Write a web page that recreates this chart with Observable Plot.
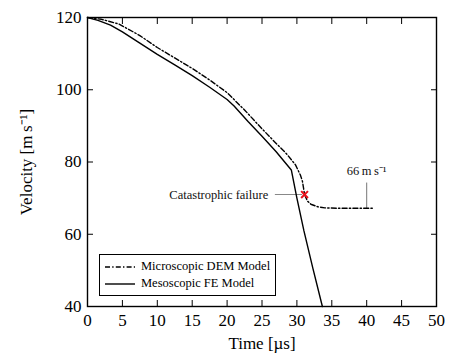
<!DOCTYPE html>
<html>
<head>
<meta charset="utf-8">
<script src="https://cdn.jsdelivr.net/npm/d3@7"></script>
<script src="https://cdn.jsdelivr.net/npm/@observablehq/plot@0.6"></script>
<style>
  html, body { margin: 0; padding: 0; background: #fff; }
  #wrap { position: relative; width: 449px; height: 359px; font-family: "Liberation Serif", "Times New Roman", serif; }
  #wrap svg text { font-family: "Liberation Serif", "Times New Roman", serif; }
  #legend { position: absolute; left: 99px; top: 254px; width: 175px; height: 40px; border: 1.5px solid #000; background: #fff; font-size: 12.5px; }
  #legend .row { position: absolute; left: 5px; display: flex; align-items: center; }
  #legend svg { display: block; margin-right: 5px; }
</style>
</head>
<body>
<div id="wrap"></div>
<script>
// Microscopic DEM model (dash-dot)
const demTime = [0, 2, 4.5, 7.5, 10, 12.5, 15, 17.5, 20, 22.5, 25, 27, 28.5, 29.8, 30.5, 30.8, 31.1, 31.5, 32, 33, 34, 36, 38, 41];
const demVel  = [120, 119.5, 118.2, 115.0, 111.7, 108.8, 105.9, 102.7, 99.2, 94.4, 89.2, 85.2, 82.3, 79.2, 76.4, 74.6, 71.0, 69.2, 68.3, 67.6, 67.3, 67.2, 67.2, 67.2];
// Mesoscopic FE model (solid)
const feTime = [0, 1.5, 3.3, 5, 7.5, 10, 12.5, 15, 17.5, 20, 21, 23, 25, 27, 29.2, 30, 31, 32.3, 33.65];
const feVel  = [120, 119.2, 117.9, 116.0, 112.9, 109.8, 106.9, 103.9, 100.7, 97.3, 95.5, 91.2, 87.1, 82.9, 77.8, 70.0, 61.0, 50.5, 40];

const xTicks = [0, 5, 10, 15, 20, 25, 30, 35, 40, 45, 50];
const yTicks = [40, 60, 80, 100, 120];

// annotations
const failTime = [31.1], failVel = [71.0];
const failLabel = ["Catastrophic failure"];
const failLeaderX = [26.9, 30.7], failLeaderY = [71.0, 71.0];
const plateauLabel = ["66\u2009m\u2009s\u207B\u00B9"];
const plateauX = [40], plateauLabelY = [77.6], plateauRuleY = [67.2, 74.2];

const dem = demTime.map((t, i) => ({t, v: demVel[i]}));
const fe = feTime.map((t, i) => ({t, v: feVel[i]}));

const font = "Liberation Serif, Times New Roman, serif";

const chart = Plot.plot({
  width: 449,
  height: 359,
  marginLeft: 87,
  marginRight: 13,
  marginTop: 17,
  marginBottom: 53,
  style: {fontFamily: font, fontSize: "17px", background: "#fff", color: "#000"},
  x: {domain: [0, 50]},
  y: {domain: [40, 120]},
  marks: [
    Plot.axisX(xTicks, {anchor: "bottom", tickSize: 0, tickPadding: 7, fontSize: 17, fontFamily: font, label: "Time [µs]", labelArrow: "none", labelAnchor: "center", labelOffset: 42}),
    Plot.axisX(xTicks, {anchor: "bottom", tickSize: -6, tickFormat: () => "", label: null}),
    Plot.axisX(xTicks, {anchor: "top", tickSize: -6, tickFormat: () => "", label: null}),
    Plot.axisY(yTicks, {anchor: "left", tickSize: 0, tickPadding: 6, fontSize: 17, fontFamily: font, label: "Velocity [m\u2009s\u207B\u00B9]", labelArrow: "none", labelAnchor: "center", labelOffset: 68}),
    Plot.axisY(yTicks, {anchor: "left", tickSize: -6, tickFormat: () => "", label: null}),
    Plot.axisY(yTicks, {anchor: "right", tickSize: -6, tickFormat: () => "", label: null}),
    Plot.line(failLeaderX.map((x, i) => ({x, y: failLeaderY[i]})), {x: "x", y: "y", stroke: "#888", strokeWidth: 1}),
    Plot.line(plateauRuleY.map((y) => ({x: plateauX[0], y})), {x: "x", y: "y", stroke: "#777", strokeWidth: 1}),
    Plot.line(fe, {x: "t", y: "v", stroke: "#000", strokeWidth: 1.4}),
    Plot.line(dem, {x: "t", y: "v", stroke: "#000", strokeWidth: 1.4, strokeDasharray: "5,2.2,1.4,2.2"}),
    Plot.dot(failTime.map((t, i) => ({t, v: failVel[i]})), {x: "t", y: "v", symbol: "times", r: 3.2, stroke: "#e8101a", strokeWidth: 2}),
    Plot.text(failLabel, {x: failLeaderX[0] - 1, y: failVel[0], text: d => d, textAnchor: "end", fontSize: 12.5, fontFamily: font, fill: "#111"}),
    Plot.text(plateauLabel, {x: plateauX[0], y: plateauLabelY[0], text: d => d, fontSize: 12.5, fontFamily: font, fill: "#111"}),
    Plot.frame({stroke: "#000", strokeWidth: 1.4})
  ]
});

const wrap = document.getElementById("wrap");
wrap.appendChild(chart);

const legendEntries = ["Microscopic DEM Model", "Mesoscopic FE Model"];
const legendDash = ["5,2.2,1.4,2.2", null];
const legend = document.createElement("div");
legend.id = "legend";
legendEntries.forEach((name, i) => {
  const row = document.createElement("div");
  row.className = "row";
  row.style.top = (4 + i * 17) + "px";
  row.innerHTML = `<svg width="31" height="10"><line x1="0" x2="30" y1="5" y2="5" stroke="#000" stroke-width="1.4" ${legendDash[i] ? `stroke-dasharray="${legendDash[i]}"` : ""}/></svg><span>${name}</span>`;
  legend.appendChild(row);
});
wrap.appendChild(legend);
</script>
</body>
</html>
